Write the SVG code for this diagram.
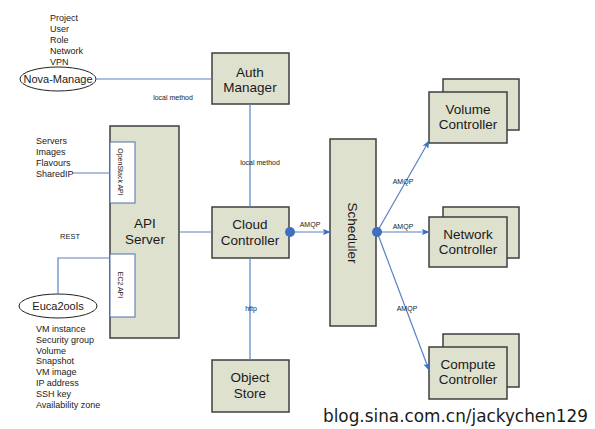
<svg xmlns="http://www.w3.org/2000/svg" width="595" height="429" viewBox="0 0 595 429">
<defs>
<style>
.box{fill:#dfe1cf;stroke:#3f3f3f;stroke-width:1.5}
.sub{fill:#ffffff;stroke:#4f6fa8;stroke-width:1}
.ell{fill:#ffffff;stroke:#222;stroke-width:1}
.ln{fill:none;stroke:#5a80c4;stroke-width:1.2}
.lbl{font-family:"Liberation Sans",Arial,sans-serif;font-size:13.5px;fill:#1a1a1a;text-anchor:middle}
.lst{font-family:"Liberation Sans",Arial,sans-serif;font-size:9px;fill:#222}
.sm{font-family:"Liberation Sans",Arial,sans-serif;font-size:7px;fill:#222;text-anchor:middle}
.dot{fill:#3f6fc0}
</style>
<marker id="ah" viewBox="0 0 10 10" refX="9" refY="5" markerWidth="8" markerHeight="8" orient="auto" markerUnits="userSpaceOnUse">
<path d="M0,1 L10,5 L0,9 L2,5 Z" fill="#3f6fc0"/>
</marker>
</defs>
<rect width="595" height="429" fill="#ffffff"/>

<g id="nova-manage">
<ellipse class="ell" cx="58" cy="79" rx="38" ry="12"/>
<text class="lbl" x="58" y="83" style="font-size:11px">Nova-Manage</text>
<text class="lst" x="50" y="21">Project</text>
<text class="lst" x="50" y="32">User</text>
<text class="lst" x="50" y="43">Role</text>
<text class="lst" x="50" y="54">Network</text>
<text class="lst" x="50" y="65">VPN</text>
</g>

<g id="auth-manager">
<rect class="box" x="212" y="53" width="77" height="51"/>
<text class="lbl" x="250" y="77">Auth</text>
<text class="lbl" x="250" y="92">Manager</text>
</g>

<g id="api-server">
<rect class="box" x="110" y="126" width="69" height="212"/>
<text class="lbl" x="145" y="228">API</text>
<text class="lbl" x="145" y="244">Server</text>
</g>
<g id="openstack-api">
<rect class="sub" x="110" y="142" width="25" height="61"/>
<text class="sm" transform="translate(120,172) rotate(90)" y="2">OpenStack API</text>
</g>
<g id="ec2-api">
<rect class="sub" x="110" y="254" width="25" height="63"/>
<text class="sm" transform="translate(120,285) rotate(90)" y="2">EC2 API</text>
</g>
<g id="openstack-list">
<text class="lst" x="36" y="144">Servers</text>
<text class="lst" x="36" y="155">Images</text>
<text class="lst" x="36" y="166">Flavours</text>
<text class="lst" x="36" y="177">SharedIP</text>
</g>

<g id="euca2ools">
<ellipse class="ell" cx="58" cy="306" rx="39" ry="12"/>
<text class="lbl" x="58" y="310" style="font-size:11px">Euca2ools</text>
<text class="lst" x="36" y="332">VM instance</text>
<text class="lst" x="36" y="343">Security group</text>
<text class="lst" x="36" y="354">Volume</text>
<text class="lst" x="36" y="364">Snapshot</text>
<text class="lst" x="36" y="375">VM image</text>
<text class="lst" x="36" y="386">IP address</text>
<text class="lst" x="36" y="397">SSH key</text>
<text class="lst" x="36" y="408">Availability zone</text>
</g>

<g id="cloud-controller">
<rect class="box" x="212" y="207" width="77" height="51"/>
<text class="lbl" x="250" y="229">Cloud</text>
<text class="lbl" x="250" y="245">Controller</text>
</g>

<g id="object-store">
<rect class="box" x="212" y="360" width="77" height="52"/>
<text class="lbl" x="250" y="382">Object</text>
<text class="lbl" x="250" y="398">Store</text>
</g>

<g id="scheduler">
<rect class="box" x="330" y="139" width="46" height="187"/>
<text class="lbl" transform="translate(353,233) rotate(90)" y="5">Scheduler</text>
</g>

<g id="volume-controller">
<rect class="box" x="443" y="79" width="76" height="51"/>
<rect class="box" x="429" y="92" width="78" height="51"/>
<text class="lbl" x="468" y="114">Volume</text>
<text class="lbl" x="468" y="129">Controller</text>
</g>

<g id="network-controller">
<rect class="box" x="443" y="207" width="76" height="51"/>
<rect class="box" x="429" y="217" width="78" height="50"/>
<text class="lbl" x="468" y="239">Network</text>
<text class="lbl" x="468" y="254">Controller</text>
</g>

<g id="compute-controller">
<rect class="box" x="443" y="334" width="76" height="53"/>
<rect class="box" x="429" y="347" width="78" height="52"/>
<text class="lbl" x="468" y="369">Compute</text>
<text class="lbl" x="468" y="384">Controller</text>
</g>

<g id="connectors">
<line class="ln" x1="96" y1="79" x2="212" y2="79"/>
<line class="ln" x1="250" y1="104" x2="250" y2="207"/>
<line class="ln" x1="73" y1="173" x2="110" y2="173"/>
<polyline class="ln" points="58,294 58,258 110,258"/>
<line class="ln" x1="179" y1="232" x2="212" y2="232"/>
<line class="ln" x1="250" y1="258" x2="250" y2="360"/>
<line class="ln" x1="289" y1="232" x2="330" y2="232" marker-end="url(#ah)"/>
<line class="ln" x1="377" y1="232" x2="429" y2="141" marker-end="url(#ah)"/>
<line class="ln" x1="377" y1="232" x2="429" y2="232" marker-end="url(#ah)"/>
<line class="ln" x1="377" y1="232" x2="429" y2="370" marker-end="url(#ah)"/>
<circle class="dot" cx="290" cy="232" r="5"/>
<circle class="dot" cx="377" cy="232" r="5"/>
<text class="sm" x="173" y="100">local method</text>
<text class="sm" x="260" y="165">local method</text>
<text class="sm" x="310" y="227">AMQP</text>
<text class="sm" x="251" y="311">http</text>
<text class="sm" x="403" y="184">AMQP</text>
<text class="sm" x="403" y="229">AMQP</text>
<text class="sm" x="407" y="311">AMQP</text>
<text class="sm" x="70" y="239" style="font-size:7.5px">REST</text>
</g>

<text x="323" y="422" style="font-family:'DejaVu Sans','Liberation Sans',sans-serif;font-size:17px;fill:#1a1a1a;stroke:#ffffff;stroke-width:0.6;paint-order:stroke" textLength="265" lengthAdjust="spacingAndGlyphs">blog.sina.com.cn/jackychen129</text>
</svg>
